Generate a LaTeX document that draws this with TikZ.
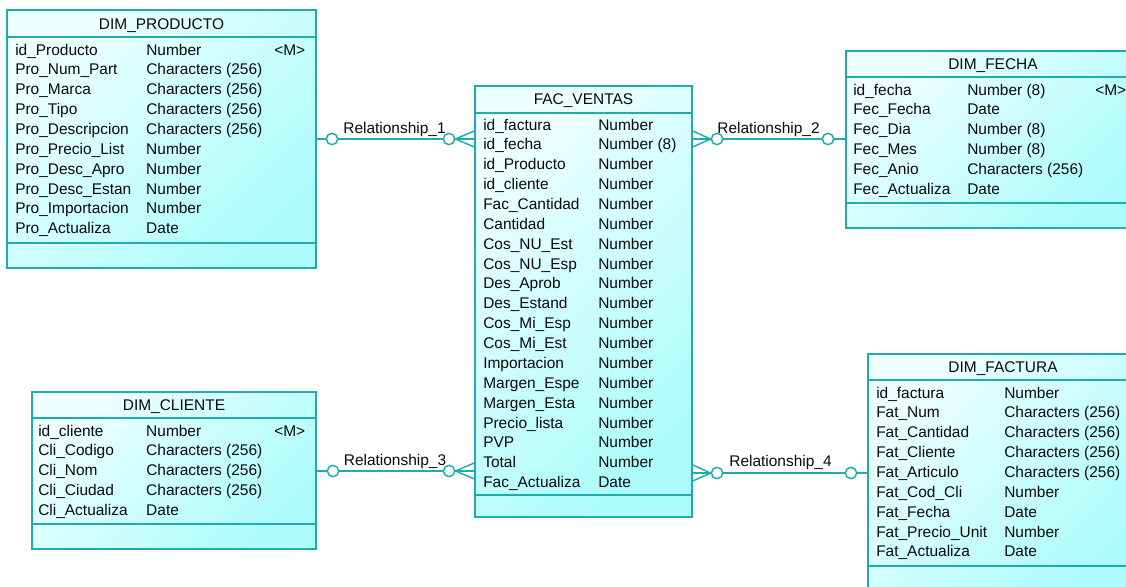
\documentclass[tikz,border=0pt]{standalone}
\usepackage{fontspec}
\setmainfont{Liberation Sans}
\usepackage{tikz}
\usetikzlibrary{fit}
\definecolor{ColLine}{RGB}{32,172,172}
\definecolor{ColTop}{RGB}{238,255,255}
\definecolor{ColBot}{RGB}{172,252,252}
\definecolor{ColText}{RGB}{10,10,10}
\tikzstyle{EntityBox}=[draw=ColLine,line width=1.1pt,inner sep=0pt,top color=ColTop,
bottom color=ColBot,shading angle=45]
\tikzstyle{EntityLine}=[ColLine,line width=1.1pt]
\tikzstyle{EntityTitle}=[anchor=base,inner sep=0pt,text=ColText]
\tikzstyle{EntityRows}=[anchor=base west,inner sep=0pt,text=ColText]
\tikzstyle{RelCircle}=[circle,draw=ColLine,fill=white,line width=1.1pt,inner sep=0pt,minimum size=8.5pt]
\tikzstyle{RelLine}=[ColLine,line width=1.1pt]
\tikzstyle{RelLabel}=[anchor=base,inner sep=0pt,text=ColText]
\newcommand{\AttrRows}[2]{\begin{tabular}[t]{@{}p{#1}@{}p{96pt}@{}l@{}}#2\end{tabular}}

\begin{document}
\begin{tikzpicture}[x=0.75pt,y=-0.75pt,font=\fontsize{11.6}{14.9}\selectfont]
        \useasboundingbox(0,0)rectangle(1126,586);
        \clip(0,0)rectangle(1126,586);
        % entities
        \node[EntityBox,fit={(7,10)(316,268)}](prod){};
        \draw[EntityLine](7,37)--(316,37);
        \draw[EntityLine](7,243)--(316,243);
        \node[EntityTitle](prodT)at(161.5,29){DIM\_PRODUCTO};
        \node[EntityRows](prodR)at(15,55){\AttrRows{98.25pt}{%
            id\_Producto&Number&<M>\\
            Pro\_Num\_Part&Characters (256)\\
            Pro\_Marca&Characters (256)\\
            Pro\_Tipo&Characters (256)\\
            Pro\_Descripcion&Characters (256)\\
            Pro\_Precio\_List&Number\\
            Pro\_Desc\_Apro&Number\\
            Pro\_Desc\_Estan&Number\\
            Pro\_Importacion&Number\\
            Pro\_Actualiza&Date}};
        \node[EntityBox,fit={(475,86)(692,517)}](vent){};
        \draw[EntityLine](475,113)--(692,113);
        \draw[EntityLine](475,495)--(692,495);
        \node[EntityTitle](ventT)at(583.5,104.3){FAC\_VENTAS};
        \node[EntityRows](ventR)at(483,130){\AttrRows{86.25pt}{%
            id\_factura&Number\\
            id\_fecha&Number (8)\\
            id\_Producto&Number\\
            id\_cliente&Number\\
            Fac\_Cantidad&Number\\
            Cantidad&Number\\
            Cos\_NU\_Est&Number\\
            Cos\_NU\_Esp&Number\\
            Des\_Aprob&Number\\
            Des\_Estand&Number\\
            Cos\_Mi\_Esp&Number\\
            Cos\_Mi\_Est&Number\\
            Importacion&Number\\
            Margen\_Espe&Number\\
            Margen\_Esta&Number\\
            Precio\_lista&Number\\
            PVP&Number\\
            Total&Number\\
            Fac\_Actualiza&Date}};
        \node[EntityBox,fit={(846,51)(1140,228)}](fech){};
        \draw[EntityLine](846,77)--(1140,77);
        \draw[EntityLine](846,203)--(1140,203);
        \node[EntityTitle](fechT)at(993,69.3){DIM\_FECHA};
        \node[EntityRows](fechR)at(853,95){\AttrRows{85.5pt}{%
            id\_fecha&Number (8)&<M>\\
            Fec\_Fecha&Date\\
            Fec\_Dia&Number (8)\\
            Fec\_Mes&Number (8)\\
            Fec\_Anio&Characters (256)\\
            Fec\_Actualiza&Date}};
        \node[EntityBox,fit={(32,392)(316,549)}](clie){};
        \draw[EntityLine](32,418)--(316,418);
        \draw[EntityLine](32,524)--(316,524);
        \node[EntityTitle](clieT)at(174,410){DIM\_CLIENTE};
        \node[EntityRows](clieR)at(38,436){\AttrRows{81pt}{%
            id\_cliente&Number&<M>\\
            Cli\_Codigo&Characters (256)\\
            Cli\_Nom&Characters (256)\\
            Cli\_Ciudad&Characters (256)\\
            Cli\_Actualiza&Date}};
        \node[EntityBox,fit={(868,354)(1138,600)}](fact){};
        \draw[EntityLine](868,380)--(1138,380);
        \draw[EntityLine](868,566)--(1138,566);
        \node[EntityTitle](factT)at(1003,372.3){DIM\_FACTURA};
        \node[EntityRows](factR)at(876,398){\AttrRows{96pt}{%
            id\_factura&Number\\
            Fat\_Num&Characters (256)\\
            Fat\_Cantidad&Characters (256)\\
            Fat\_Cliente&Characters (256)\\
            Fat\_Articulo&Characters (256)\\
            Fat\_Cod\_Cli&Number\\
            Fat\_Fecha&Date\\
            Fat\_Precio\_Unit&Number\\
            Fat\_Actualiza&Date}};
        % relationships
        \node[RelCircle](r1a)at(332,139){};
        \node[RelCircle](r1b)at(449,139){};
        \coordinate(r1e)at(vent.west|-r1b);
        \node[RelLabel](r1L)at(394.5,133){Relationship\_1};
        \draw[RelLine](prod.east|-r1a)--(r1a);
        \draw[RelLine](r1a)--(r1b);
        \draw[RelLine](r1b)--(r1e);
        \draw[RelLine]([yshift=6pt]r1e)--(r1b.east)--([yshift=-6pt]r1e);
        \node[RelCircle](r2a)at(717,139){};
        \node[RelCircle](r2b)at(828,139){};
        \coordinate(r2e)at(vent.east|-r2a);
        \node[RelLabel](r2L)at(768.5,133){Relationship\_2};
        \draw[RelLine](r2e)--(r2a);
        \draw[RelLine]([yshift=6pt]r2e)--(r2a.west)--([yshift=-6pt]r2e);
        \draw[RelLine](r2a)--(r2b);
        \draw[RelLine](r2b)--(fech.west|-r2b);
        \node[RelCircle](r3a)at(333,471){};
        \node[RelCircle](r3b)at(449,471){};
        \coordinate(r3e)at(vent.west|-r3b);
        \node[RelLabel](r3L)at(395,465){Relationship\_3};
        \draw[RelLine](clie.east|-r3a)--(r3a);
        \draw[RelLine](r3a)--(r3b);
        \draw[RelLine](r3b)--(r3e);
        \draw[RelLine]([yshift=6pt]r3e)--(r3b.east)--([yshift=-6pt]r3e);
        \node[RelCircle](r4a)at(717,473){};
        \node[RelCircle](r4b)at(851,473){};
        \coordinate(r4e)at(vent.east|-r4a);
        \node[RelLabel](r4L)at(780.5,466.5){Relationship\_4};
        \draw[RelLine](r4e)--(r4a);
        \draw[RelLine]([yshift=6pt]r4e)--(r4a.west)--([yshift=-6pt]r4e);
        \draw[RelLine](r4a)--(r4b);
        \draw[RelLine](r4b)--(fact.west|-r4b);
    \end{tikzpicture}
\end{document}
